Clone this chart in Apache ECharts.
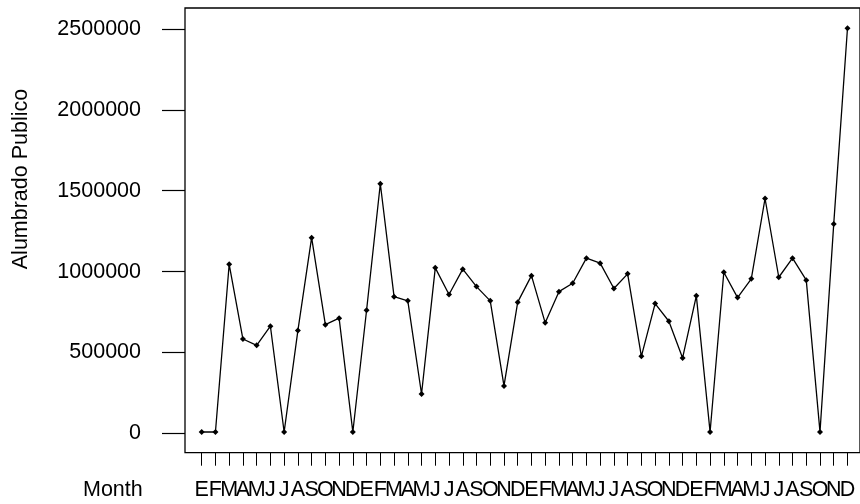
<!DOCTYPE html>
<html>
<head>
<meta charset="utf-8">
<script src="https://cdn.jsdelivr.net/npm/echarts@6/dist/echarts.min.js"></script>
<style>html,body{margin:0;padding:0;background:#fff}#c{width:860px;height:504px}</style>
</head>
<body>
<div id="c"></div>
<script>
var monthLabels = ['E','F','M','A','M','J','J','A','S','O','N','D',
                   'E','F','M','A','M','J','J','A','S','O','N','D',
                   'E','F','M','A','M','J','J','A','S','O','N','D',
                   'E','F','M','A','M','J','J','A','S','O','N','D'];
var alumbrado = [8000, 8000, 1045000, 583000, 544000, 662000, 8000, 635000, 1210000, 672000, 712000, 8000,
                 761000, 1543000, 845000, 819000, 243000, 1023000, 858000, 1015000, 907000, 819000, 293000, 811000,
                 975000, 683000, 876000, 928000, 1083000, 1052000, 895000, 986000, 476000, 802000, 693000, 466000,
                 850000, 8000, 996000, 839000, 955000, 1452000, 965000, 1083000, 947000, 8000, 1295000, 2505000];
var yTicks = [0, 500000, 1000000, 1500000, 2000000, 2500000];
var yTitle = 'Alumbrado Publico';
var xTitle = 'Month';

var FONT = '"Liberation Sans", Arial, sans-serif';
var FS = 21.5;
var step = 13.74;
var dataLeft = 201.7 - step / 2;
var dataRight = 860 - (dataLeft + step * monthLabels.length);
var chart = echarts.init(document.getElementById('c'), null, {renderer: 'canvas'});
chart.setOption({
  animation: false,
  backgroundColor: '#fff',
  grid: [
    {left: 185, top: 8, bottom: 51.3, right: -15, show: true, borderColor: '#000', borderWidth: 1.3, backgroundColor: 'transparent'},
    {left: dataLeft, top: 8, bottom: 51.3, right: dataRight, show: false}
  ],
  xAxis: [
    {gridIndex: 0, type: 'value', show: false},
    {
      gridIndex: 1, type: 'category', data: monthLabels, boundaryGap: true,
      axisLine: {show: false, onZero: false},
      splitLine: {show: false},
      axisTick: {show: true, inside: false, length: 13, alignWithLabel: true, interval: 0, lineStyle: {color: '#000', width: 1}},
      axisLabel: {show: true, interval: 0, margin: 26, color: '#000', fontFamily: FONT, fontSize: FS, hideOverlap: false}
    }
  ],
  yAxis: [
    {gridIndex: 0, type: 'value', show: false},
    {
      gridIndex: 1, type: 'value', min: -120000, max: 2630000, offset: dataLeft - 185,
      axisLine: {show: false, onZero: false},
      splitLine: {show: false},
      axisTick: {show: true, inside: false, length: 23, customValues: yTicks, lineStyle: {color: '#000', width: 1.2}},
      axisLabel: {show: true, customValues: yTicks, margin: 44, color: '#000', fontFamily: FONT, fontSize: FS,
        formatter: function (v) { return String(v); }}
    }
  ],
  graphic: [
    {type: 'text', left: 83, top: 479, style: {text: xTitle, font: FS + 'px ' + FONT, fill: '#000'}},
    {type: 'text', x: 21, y: 179, rotation: Math.PI / 2, style: {text: yTitle, font: FS + 'px ' + FONT, fill: '#000', align: 'center', verticalAlign: 'middle'}}
  ],
  series: [{
    type: 'line', xAxisIndex: 1, yAxisIndex: 1,
    data: alumbrado,
    lineStyle: {color: '#000', width: 1.3},
    itemStyle: {color: '#000'},
    symbol: 'diamond', symbolSize: 6, showSymbol: true,
    emphasis: {disabled: true}
  }]
});
</script>
</body>
</html>
